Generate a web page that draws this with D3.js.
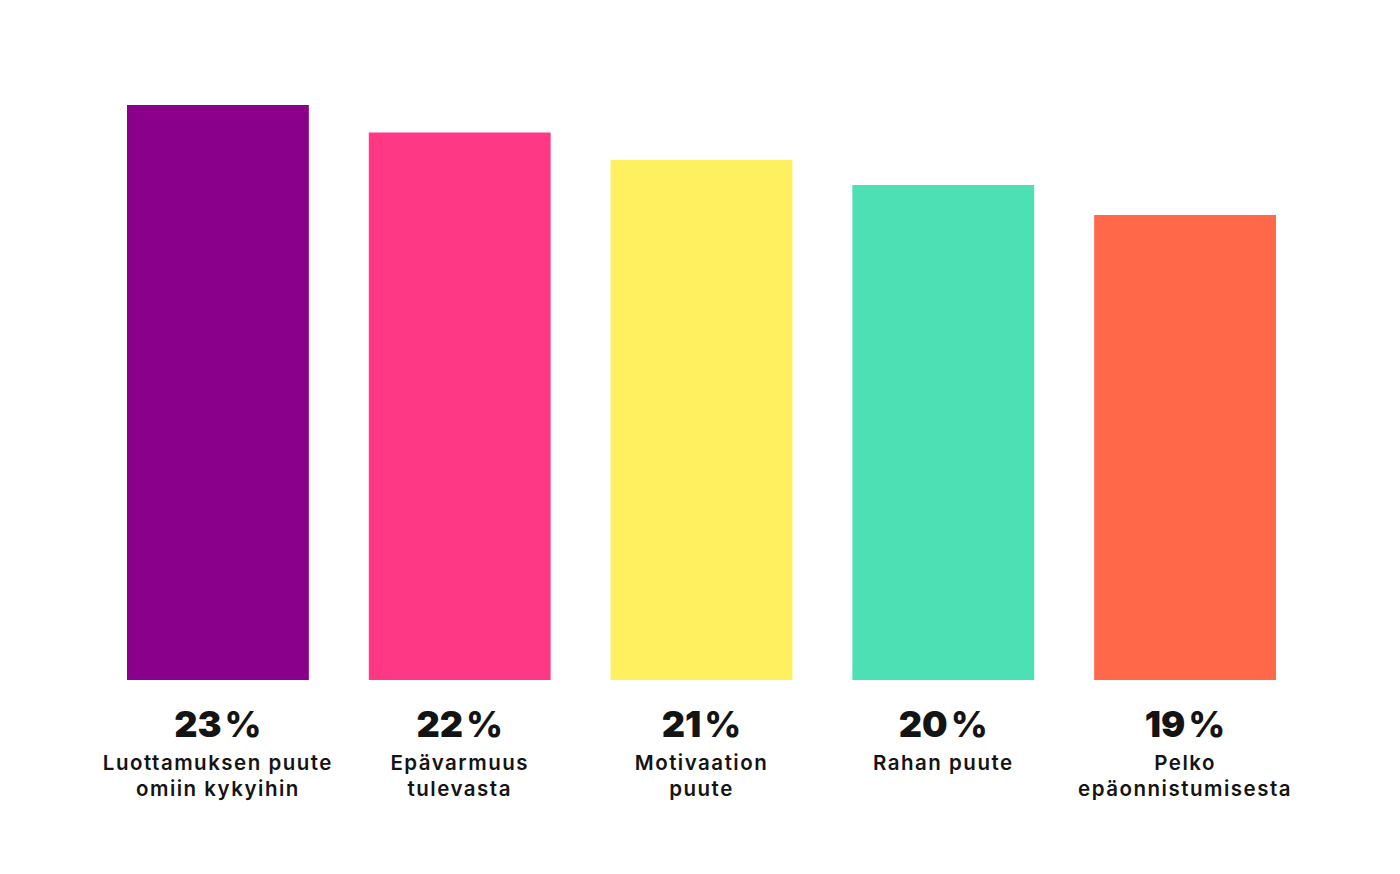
<!DOCTYPE html>
<html>
<head>
<meta charset="utf-8">
<script src="https://cdn.jsdelivr.net/npm/d3@7"></script>
<style>
  html, body { margin: 0; padding: 0; background: #fff; }
  svg { display: block; }
</style>
</head>
<body>
<svg class="chart"></svg>
<script>
const WIDTH = 1400;
const HEIGHT = 874;

// data
const categories = [
  ['Luottamuksen puute', 'omiin kykyihin'],
  ['Epävarmuus', 'tulevasta'],
  ['Motivaation', 'puute'],
  ['Rahan puute'],
  ['Pelko', 'epäonnistumisesta'],
];
const values = [23, 21.9, 20.8, 19.8, 18.6];
const valueLabels = ['23', '22', '21', '20', '19'];
const colors = ['#8b008b', '#ff3885', '#fef05f', '#4de0b5', '#ff6849'];

const data = values.map((v, i) => ({
  i,
  value: v,
  label: valueLabels[i],
  lines: categories[i],
  color: colors[i],
}));

const svg = d3.select('.chart')
  .attr('width', WIDTH)
  .attr('height', HEIGHT);

const x = d3.scaleBand()
  .domain(data.map((d) => d.i))
  .range([127, 1276])
  .paddingInner(0.248)
  .paddingOuter(0);

const y = d3.scaleLinear()
  .domain([0, 23])
  .range([680, 105]);

svg.selectAll('rect.bar')
  .data(data)
  .enter()
  .append('rect')
  .attr('class', 'bar')
  .attr('x', (d) => x(d.i))
  .attr('y', (d) => y(d.value))
  .attr('width', x.bandwidth())
  .attr('height', (d) => y(0) - y(d.value))
  .attr('fill', (d) => d.color);

const pct = svg.selectAll('text.pct')
  .data(data)
  .enter()
  .append('text')
  .attr('class', 'pct')
  .attr('x', (d) => x(d.i) + x.bandwidth() / 2)
  .attr('y', 737)
  .attr('text-anchor', 'middle')
  .style('font-family', 'Inter, Lato, sans-serif')
  .style('font-weight', 900)
  .style('font-size', '36px')
  .style('fill', '#141414');

pct.append('tspan').text((d) => d.label);
pct.append('tspan').attr('dx', 3).style('font-weight', 800).text('%');

const cat = svg.selectAll('text.cat')
  .data(data)
  .enter()
  .append('text')
  .attr('class', 'cat')
  .attr('text-anchor', 'middle')
  .style('font-family', 'Inter, "Noto Sans", sans-serif')
  .style('font-weight', 600)
  .style('font-size', '20.5px')
  .style('letter-spacing', '1.5px')
  .style('fill', '#141414');

cat.selectAll('tspan')
  .data((d) => d.lines.map((t) => ({ t, cx: x(d.i) + x.bandwidth() / 2 })))
  .enter()
  .append('tspan')
  .attr('x', (d) => d.cx)
  .attr('y', (d, j) => 770 + j * 26)
  .text((d) => d.t);
</script>
</body>
</html>
